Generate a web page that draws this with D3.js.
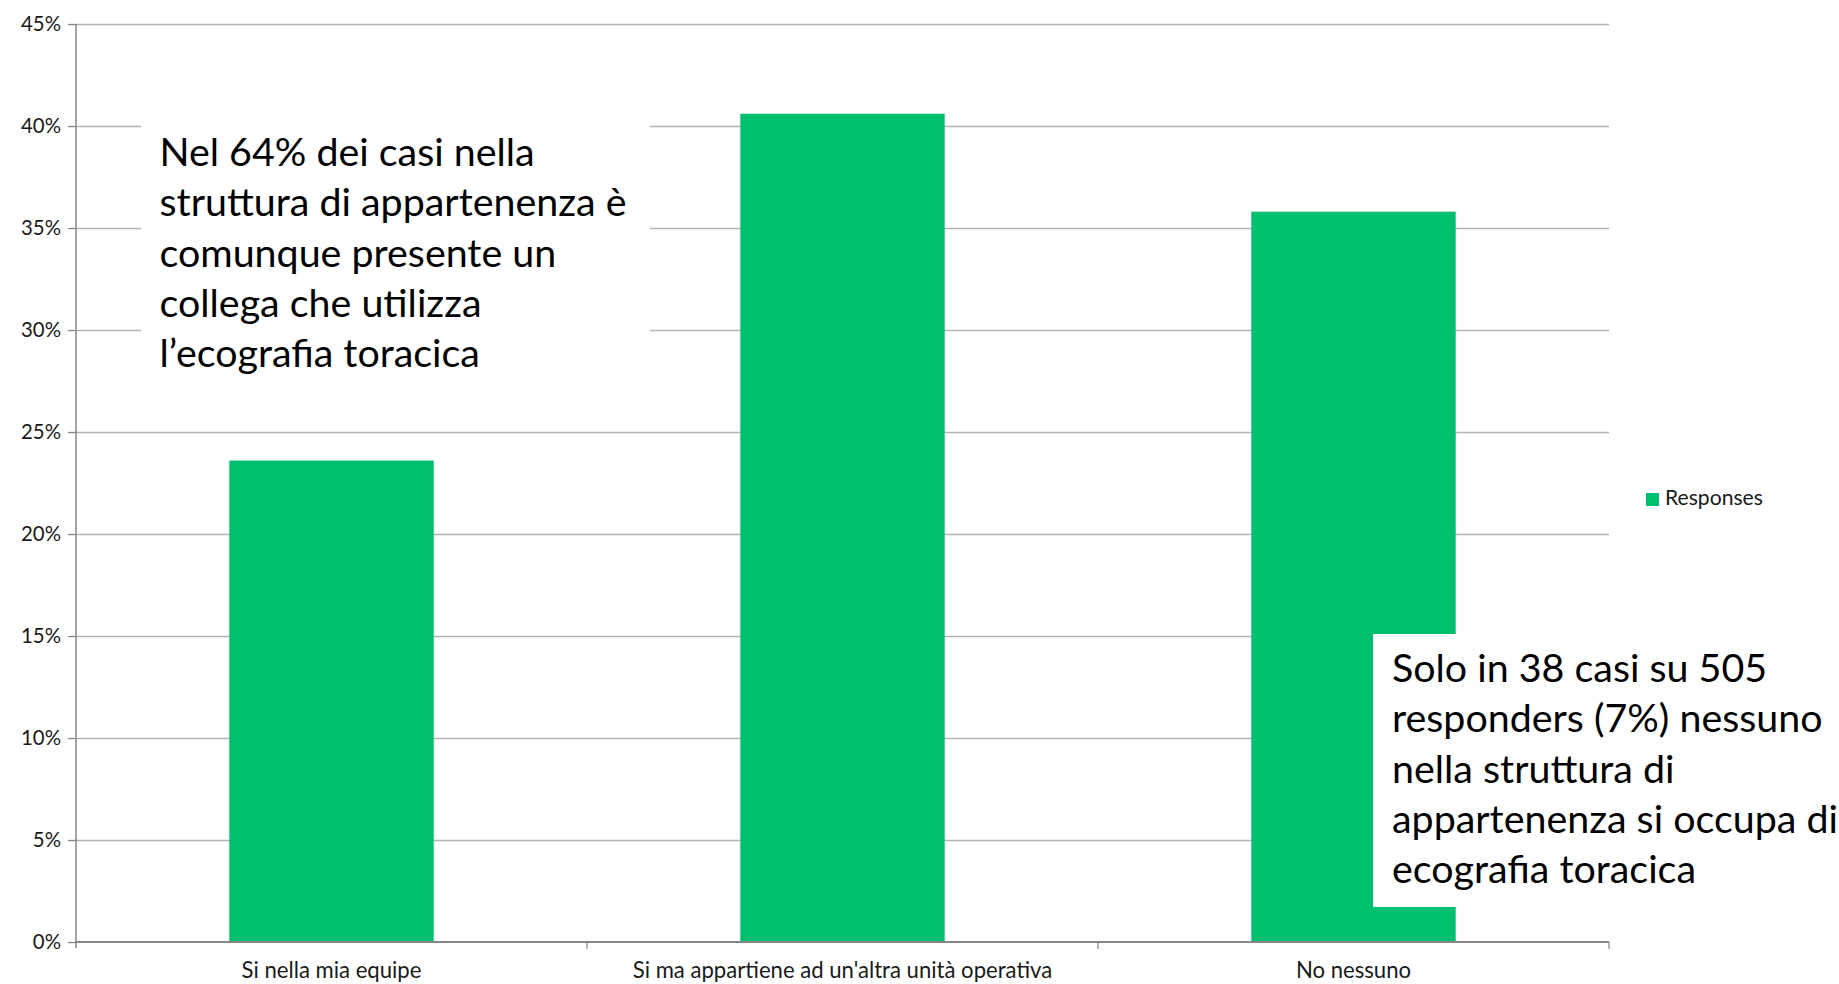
<!DOCTYPE html>
<html>
<head>
<meta charset="utf-8">
<script src="https://cdn.jsdelivr.net/npm/d3@7"></script>
<style>
html,body{margin:0;padding:0;background:#fff;overflow:hidden;}
svg{display:block;}
</style>
</head>
<body>
<svg id="chart" width="1839" height="984"></svg>
<script>
// ---- data ----
const categories = ["Si nella mia equipe", "Si ma appartiene ad un'altra unità operativa", "No nessuno"];
const responses = [0.236, 0.406, 0.358];
const seriesName = "Responses";
const yTickValues = [0, 0.05, 0.10, 0.15, 0.20, 0.25, 0.30, 0.35, 0.40, 0.45];
const note1Lines = ["Nel 64% dei casi nella", "struttura di appartenenza è", "comunque presente un", "collega che utilizza", "l’ecografia toracica"];
const note2Lines = ["Solo in 38 casi su 505", "responders (7%) nessuno", "nella struttura di", "appartenenza si occupa di", "ecografia toracica"];

// ---- layout ----
const FONT = "Lato, 'Open Sans', sans-serif";
const svg = d3.select("#chart");
const plot = {left: 76, top: 24, right: 1609, bottom: 942};
const barColor = "#00BF6F";

function fitSize(text, target) {
  const t = svg.append("text").style("font-family", FONT).style("font-size", "100px").text(text);
  const w = t.node().getComputedTextLength();
  t.remove();
  return 100 * target / w;
}

const x = d3.scaleBand().domain(categories).range([plot.left, plot.right]).paddingInner(0.6).paddingOuter(0.3);
const y = d3.scaleLinear().domain([0, 0.45]).range([plot.bottom, plot.top]);

const yFont = fitSize("45%", 40);
const xFont = fitSize(categories[0], 180);
const legFont = fitSize(seriesName, 98);
const noteFont = fitSize(note1Lines[1], 467);

// gridlines
const grid = svg.append("g").attr("transform", `translate(${plot.left},0)`)
  .call(d3.axisLeft(y).tickValues(yTickValues.slice(1)).tickSize(-(plot.right - plot.left)).tickFormat(""));
grid.select(".domain").remove();
grid.selectAll("line").attr("stroke", "#b3b3b3").attr("stroke-width", 1.3);

// bars
svg.append("g").selectAll("rect").data(categories).join("rect")
  .attr("x", d => x(d))
  .attr("width", x.bandwidth())
  .attr("y", (d, i) => y(responses[i]))
  .attr("height", (d, i) => y(0) - y(responses[i]))
  .attr("fill", barColor);

// y axis
const yAxis = svg.append("g").attr("transform", `translate(${plot.left},0)`)
  .call(d3.axisLeft(y).tickValues(yTickValues).tickFormat(d3.format(".0%")).tickSize(8).tickPadding(7));
yAxis.select(".domain").attr("d", `M0,${plot.top}V${plot.bottom + 6}`).attr("stroke", "#868686").attr("stroke-width", 1.5);
yAxis.selectAll(".tick line").attr("stroke", "#868686").attr("stroke-width", 1.3);
yAxis.selectAll("text").style("font-family", FONT).style("font-size", yFont + "px").attr("fill", "#1a1a1a");

// x axis
const xAxis = svg.append("g").attr("transform", `translate(0,${plot.bottom})`)
  .call(d3.axisBottom(x).tickSize(0));
xAxis.select(".domain").attr("d", `M${plot.left},0H${plot.right}`).attr("stroke", "#868686").attr("stroke-width", 1.8);
xAxis.selectAll("text").attr("y", 36).attr("dy", null)
  .style("font-family", FONT).style("font-size", xFont + "px").attr("fill", "#1a1a1a");
// category boundary ticks
const bounds = categories.map(c => x(c) + x.bandwidth() + x.step() * x.paddingOuter());
xAxis.append("g").selectAll("line").data(bounds).join("line")
  .attr("x1", d => d).attr("x2", d => d).attr("y1", 0).attr("y2", 7)
  .attr("stroke", "#868686").attr("stroke-width", 1.2);

// legend
const leg = svg.append("g").attr("transform", "translate(1646,493)");
leg.append("rect").attr("width", 13).attr("height", 13).attr("fill", barColor);
leg.append("text").attr("x", 19).attr("y", 12).text(seriesName)
  .style("font-family", FONT).style("font-size", legFont + "px").attr("fill", "#1a1a1a");

// notes
function note(lines, box, tx, ty0) {
  const g = svg.append("g");
  g.append("rect").attr("x", box[0]).attr("y", box[1]).attr("width", box[2]).attr("height", box[3]).attr("fill", "#fff");
  g.selectAll("text").data(lines).join("text")
    .attr("x", tx).attr("y", (d, i) => ty0 + i * 50.3)
    .text(d => d)
    .style("font-family", FONT).style("font-size", noteFont + "px").attr("fill", "#000");
}
note(note1Lines, [141, 118, 509, 274], 159.5, 166);
note(note2Lines, [1373, 634, 470, 273], 1392, 682);
</script>
</body>
</html>
